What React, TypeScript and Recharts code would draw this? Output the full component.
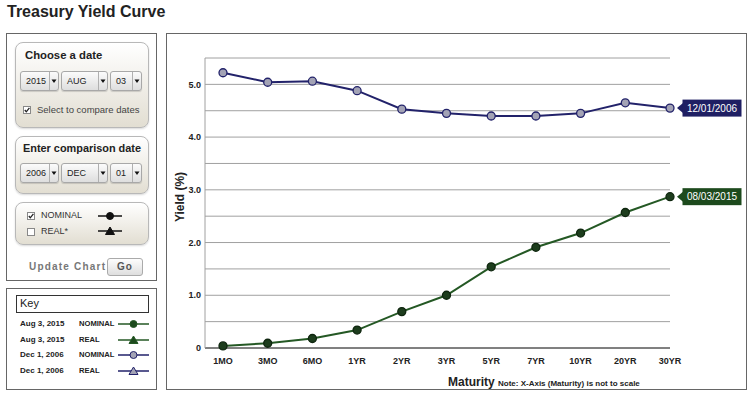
import React from 'react';
import { LineChart, Line, XAxis, YAxis, CartesianGrid } from 'recharts';

const maturities = ['1MO', '3MO', '6MO', '1YR', '2YR', '3YR', '5YR', '7YR', '10YR', '20YR', '30YR'];
const yields2015 = [0.04, 0.09, 0.18, 0.34, 0.69, 1.0, 1.54, 1.91, 2.18, 2.57, 2.87];
const yields2006 = [5.22, 5.04, 5.06, 4.88, 4.53, 4.45, 4.4, 4.4, 4.45, 4.65, 4.55];
const yTicks = [0, 0.5, 1, 1.5, 2, 2.5, 3, 3.5, 4, 4.5, 5, 5.5];
const date2015 = '08/03/2015';
const date2006 = '12/01/2006';
const keyRows = [
  { date: 'Aug 3, 2015', kind: 'NOMINAL' },
  { date: 'Aug 3, 2015', kind: 'REAL' },
  { date: 'Dec 1, 2006', kind: 'NOMINAL' },
  { date: 'Dec 1, 2006', kind: 'REAL' },
];

const data = maturities.map((m, i) => ({ m, a: yields2015[i], b: yields2006[i] }));

const FONT = "Arial, 'Liberation Sans', sans-serif";
const NAVY = '#22226a';
const NAVY_TAG = '#1f1f63';
const GREEN = '#245824';
const GREEN_TAG = '#1d4a1d';

const makeDot = (fill: string, stroke: string, tag: string, tagBg: string) => (props: any) => {
  const { cx, cy, index } = props;
  const last = index === maturities.length - 1;
  const bx = cx + 12.5;
  const w = 59;
  const h = 17;
  return (
    <g key={`d-${tag}-${index}`}>
      <circle cx={cx} cy={cy} r={4} fill={fill} stroke={stroke} strokeWidth={1.3} />
      {last && (
        <g>
          <polygon points={`${cx + 7},${cy} ${bx + 0.5},${cy - 5} ${bx + 0.5},${cy + 5}`} fill={tagBg} />
          <rect x={bx} y={cy - h / 2} width={w} height={h} fill={tagBg} />
          <text x={bx + w / 2} y={cy} dy="0.36em" textAnchor="middle" fill="#fff" fontSize={10} fontFamily={FONT}>
            {tag}
          </text>
        </g>
      )}
    </g>
  );
};

function Select({ left, top, width, value }: { left: number; top: number; width: number; value: string }) {
  return (
    <div
      style={{
        position: 'absolute', left, top, width, height: 20, boxSizing: 'border-box',
        border: '1px solid #a8a8a8', borderRadius: 3,
        background: 'linear-gradient(#fbfbfb, #dedede)', boxShadow: '0 1px 1px rgba(0,0,0,0.15)',
      }}
    >
      <span style={{ position: 'absolute', left: 5, top: 4, fontSize: 9, color: '#222', lineHeight: '10px' }}>{value}</span>
      <div style={{ position: 'absolute', right: 0, top: 0, bottom: 0, width: 8, borderLeft: '1px solid #b0b0b0' }}>
        <svg width={8} height={18} style={{ position: 'absolute', left: 0, top: 0 }}>
          <polygon points="1.5,7.5 6.5,7.5 4,11" fill="#111" />
        </svg>
      </div>
    </div>
  );
}

function CheckBox({ left, top, checked }: { left: number; top: number; checked: boolean }) {
  return (
    <svg width={8} height={8} style={{ position: 'absolute', left, top }}>
      <rect x={0.5} y={0.5} width={7} height={7} fill="#fff" stroke="#888" />
      {checked && <polyline points="1.8,4 3.3,5.8 6.4,1.8" fill="none" stroke="#222" strokeWidth={1.3} />}
    </svg>
  );
}

function Symbol({ left, top, color, fill, shape, width }: any) {
  return (
    <svg width={width} height={10} style={{ position: 'absolute', left, top }}>
      <line x1={0} y1={5} x2={width} y2={5} stroke={color} strokeWidth={1.5} />
      {shape === 'dot' ? (
        <circle cx={width / 2} cy={5} r={3.5} fill={fill} stroke={color} strokeWidth={1} />
      ) : (
        <polygon points={`${width / 2 - 4.5},8.5 ${width / 2 + 4.5},8.5 ${width / 2},1`} fill={fill} stroke={color} strokeWidth={1} />
      )}
    </svg>
  );
}

const panel: React.CSSProperties = {
  position: 'absolute', left: 15, width: 134, boxSizing: 'border-box',
  border: '1px solid #b8b8b8', borderRadius: 8,
  background: 'linear-gradient(#ffffff, #e2ded2)',
  boxShadow: '0 1px 2px rgba(0,0,0,0.15)',
};

export default function App() {
  return (
    <div style={{ position: 'absolute', left: 0, top: 0, width: 755, height: 393, background: '#fff', fontFamily: FONT, color: '#222' }}>
      <div style={{ position: 'absolute', left: 7, top: 3, fontSize: 16, fontWeight: 'bold', color: '#222' }}>Treasury Yield Curve</div>

      {/* Controls box */}
      <div style={{ position: 'absolute', left: 6, top: 33, width: 151, height: 248, boxSizing: 'border-box', border: '1px solid #666' }} />

      <div style={{ ...panel, top: 42, height: 86 }} />
      <div style={{ position: 'absolute', left: 25, top: 49, fontSize: 11.3, fontWeight: 'bold' }}>Choose a date</div>
      <Select left={20} top={71} width={39} value="2015" />
      <Select left={61} top={71} width={47} value="AUG" />
      <Select left={110} top={71} width={32} value="03" />
      <CheckBox left={23} top={106} checked={true} />
      <div style={{ position: 'absolute', left: 37, top: 104, fontSize: 9.5, color: '#444' }}>Select to compare dates</div>

      <div style={{ ...panel, top: 136, height: 58 }} />
      <div style={{ position: 'absolute', left: 23, top: 142, fontSize: 10.9, fontWeight: 'bold' }}>Enter comparison date</div>
      <Select left={20} top={163} width={39} value="2006" />
      <Select left={61} top={163} width={47} value="DEC" />
      <Select left={110} top={163} width={32} value="01" />

      <div style={{ ...panel, top: 202, height: 43 }} />
      <CheckBox left={27} top={212} checked={true} />
      <div style={{ position: 'absolute', left: 41, top: 210, fontSize: 9, color: '#333' }}>NOMINAL</div>
      <Symbol left={98} top={211} width={24} color="#111" fill="#111" shape="dot" />
      <CheckBox left={27} top={228} checked={false} />
      <div style={{ position: 'absolute', left: 41, top: 226, fontSize: 9, color: '#333' }}>REAL*</div>
      <Symbol left={98} top={226} width={24} color="#111" fill="#111" shape="tri" />

      <div style={{ position: 'absolute', left: 29, top: 261, fontSize: 10, fontWeight: 'bold', letterSpacing: 1.2, color: '#777' }}>Update Chart</div>
      <div
        style={{
          position: 'absolute', left: 107, top: 258, width: 36, height: 18, boxSizing: 'border-box',
          border: '1px solid #aaa', borderRadius: 3, background: 'linear-gradient(#fdfdfd, #dedede)',
          fontSize: 10, fontWeight: 'bold', letterSpacing: 1, color: '#555', textAlign: 'center', lineHeight: '16px',
        }}
      >
        Go
      </div>

      {/* Key box */}
      <div style={{ position: 'absolute', left: 6, top: 288, width: 151, height: 102, boxSizing: 'border-box', border: '1px solid #666' }} />
      <div style={{ position: 'absolute', left: 16, top: 295, width: 133, height: 18, boxSizing: 'border-box', border: '1px solid #333' }} />
      <div style={{ position: 'absolute', left: 20, top: 297, fontSize: 11, color: '#222' }}>Key</div>
      {keyRows.map((r, i) => {
        const top = 319 + i * 15.6;
        const is15 = r.date.indexOf('2015') >= 0;
        return (
          <React.Fragment key={i}>
            <div style={{ position: 'absolute', left: 20, top, fontSize: 8, fontWeight: 'bold' }}>{r.date}</div>
            <div style={{ position: 'absolute', left: 79, top, fontSize: 7.6, fontWeight: 'bold' }}>{r.kind}</div>
            <Symbol
              left={118} top={top} width={31}
              color={is15 ? GREEN : NAVY}
              fill={is15 ? GREEN_TAG : '#a3a3b5'}
              shape={r.kind === 'NOMINAL' ? 'dot' : 'tri'}
            />
          </React.Fragment>
        );
      })}

      {/* Chart box */}
      <div style={{ position: 'absolute', left: 166, top: 33, width: 581, height: 357, boxSizing: 'border-box', border: '1px solid #666' }} />
      <div style={{ position: 'absolute', left: 166, top: 33 }}>
        <LineChart width={581} height={357} data={data} margin={{ top: 25, right: 77, bottom: 12, left: 0 }}>
          <CartesianGrid vertical={false} stroke="#a0a0a0" strokeWidth={1} />
          <XAxis
            dataKey="m"
            height={30}
            interval={0}
            padding={{ left: 18, right: 0 }}
            tickLine={false}
            tickMargin={4}
            axisLine={{ stroke: '#333', strokeWidth: 1.2 }}
            tick={{ fontSize: 9, fontWeight: 'bold', fill: '#222', fontFamily: FONT }}
            label={(props: any) => (
              <g>
                <text x={282} y={353} fontSize={12} fontWeight="bold" fill="#222" fontFamily={FONT}>Maturity</text>
                <text x={332} y={353} fontSize={8} fontWeight="bold" fill="#222" fontFamily={FONT}>Note: X-Axis (Maturity) is not to scale</text>
              </g>
            )}
          />
          <YAxis
            width={39}
            domain={[0, 5.5]}
            ticks={yTicks}
            interval={0}
            tickLine={false}
            tickSize={2}
            tickMargin={2}
            axisLine={{ stroke: '#a0a0a0' }}
            tick={{ fontSize: 9, fontWeight: 'bold', fill: '#222', fontFamily: FONT }}
            tickFormatter={(v: number) => (v === 0 ? '0' : Number.isInteger(v) ? v.toFixed(1) : '')}
            label={(props: any) => (
              <text x={14} y={164} transform="rotate(-90 14 164)" textAnchor="middle" dominantBaseline="central" fontSize={12} fontWeight="bold" fill="#222" fontFamily={FONT}>
                Yield (%)
              </text>
            )}
          />
          <Line
            dataKey="b"
            stroke={NAVY}
            strokeWidth={2}
            isAnimationActive={false}
            dot={makeDot('#a3a3b5', NAVY, date2006, NAVY_TAG)}
            activeDot={false}
          />
          <Line
            dataKey="a"
            stroke={GREEN}
            strokeWidth={2}
            isAnimationActive={false}
            dot={makeDot('#1d3d1d', '#0f260f', date2015, GREEN_TAG)}
            activeDot={false}
          />
        </LineChart>
      </div>
    </div>
  );
}
